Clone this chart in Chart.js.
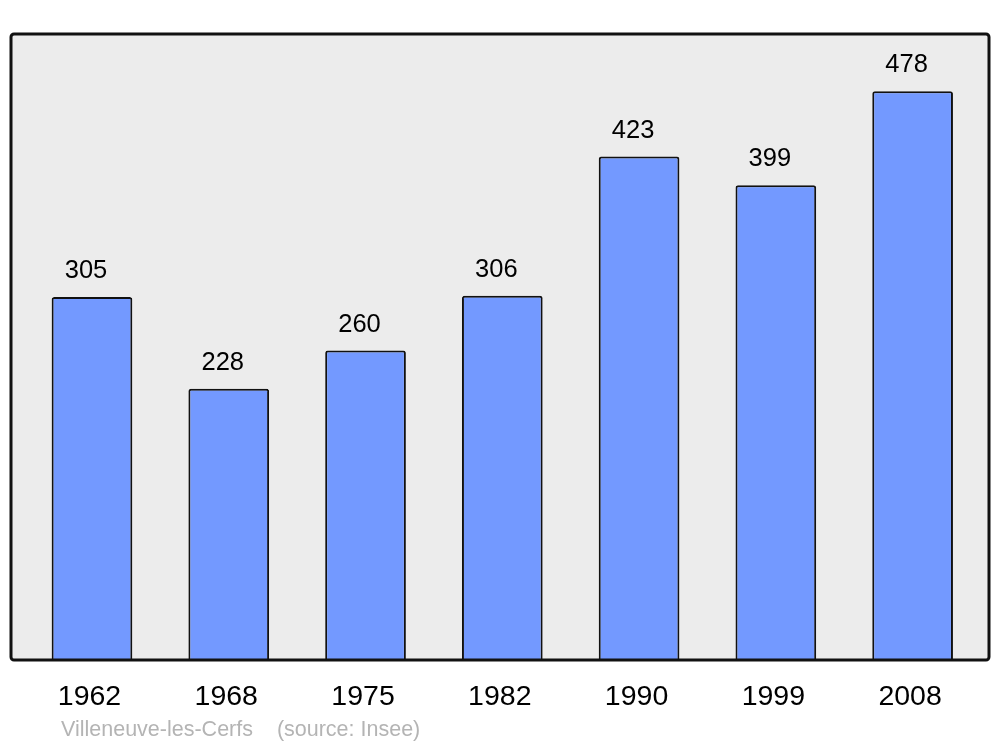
<!DOCTYPE html>
<html>
<head>
<meta charset="utf-8">
<script src="https://cdn.jsdelivr.net/npm/chart.js@4"></script>
<style>
html,body{margin:0;padding:0;background:#fff;}
#wrap{width:1000px;height:747px;position:relative;}
</style>
</head>
<body>
<div id="wrap"><canvas id="c" width="1000" height="747"></canvas></div>
<script>
const years = ["1962","1968","1975","1982","1990","1999","2008"];
const population = [305,228,260,306,423,399,478];
const sourceText = "Villeneuve-les-Cerfs    (source: Insee)";

const framePlugin = {
  id: 'frame',
  beforeDraw(chart) {
    const ctx = chart.ctx, a = chart.chartArea;
    ctx.save();
    ctx.beginPath();
    ctx.roundRect(11, a.top, chart.width - 22, a.bottom - a.top, 3);
    ctx.fillStyle = '#ececec';
    ctx.fill();
    ctx.restore();
  },
  afterDraw(chart) {
    const ctx = chart.ctx, a = chart.chartArea;
    ctx.save();
    ctx.beginPath();
    ctx.roundRect(11, a.top, chart.width - 22, a.bottom - a.top, 3);
    ctx.lineWidth = 3;
    ctx.strokeStyle = '#111';
    ctx.stroke();
    ctx.font = '21.5px "Liberation Sans", Arial, sans-serif';
    ctx.fillStyle = '#b4b4b4';
    ctx.textAlign = 'left';
    ctx.textBaseline = 'middle';
    ctx.fillText(sourceText, 61, 730);
    ctx.restore();
  }
};

const labelPlugin = {
  id: 'vlabels',
  afterDatasetsDraw(chart) {
    const ctx = chart.ctx;
    const meta = chart.getDatasetMeta(0);
    ctx.save();
    ctx.font = '25.5px "Liberation Sans", Arial, sans-serif';
    ctx.fillStyle = '#000';
    ctx.textAlign = 'center';
    ctx.textBaseline = 'middle';
    meta.data.forEach((bar, i) => {
      ctx.fillText(String(population[i]), bar.x - 6, bar.y - 26);
    });
    ctx.restore();
  }
};

new Chart(document.getElementById('c'), {
  type: 'bar',
  data: {
    labels: years,
    datasets: [{
      data: population,
      backgroundColor: '#7399ff',
      borderColor: '#111',
      borderWidth: 2,
      borderRadius: 2.5,
      borderSkipped: 'bottom',
      barPercentage: 0.59,
      categoryPercentage: 1.0
    }]
  },
  options: {
    responsive: false,
    animation: false,
    layout: { padding: { left: 23.6, right: 19, top: 34, bottom: 12.8 } },
    plugins: { legend: { display: false }, tooltip: { enabled: false } },
    scales: {
      x: {
        grid: { display: false, drawTicks: false },
        border: { display: false },
        ticks: {
          color: '#000',
          padding: 20,
          labelOffset: -2.5,
          font: { family: '"Liberation Sans", Arial, sans-serif', size: 28.5 }
        }
      },
      y: {
        display: false,
        min: 0,
        max: 526
      }
    }
  },
  plugins: [framePlugin, labelPlugin]
});
</script>
</body>
</html>
